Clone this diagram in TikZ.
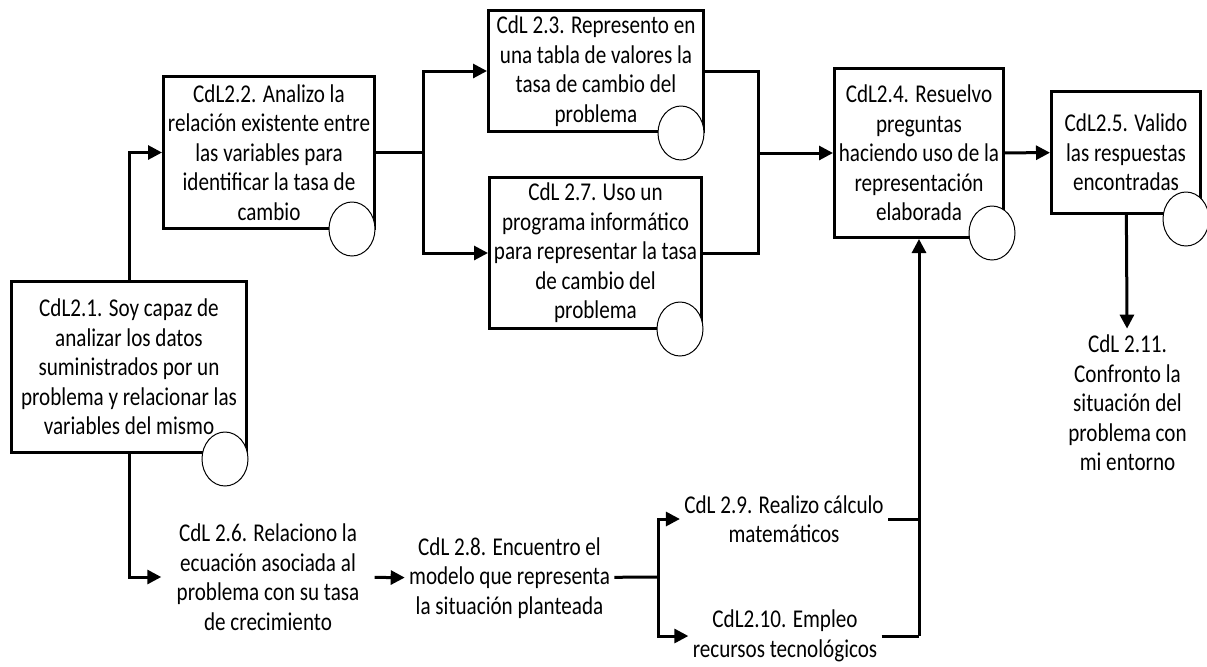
\documentclass[tikz,border=0pt]{standalone}
\usepackage{fontspec}
\setmainfont{Carlito}[FakeStretch=0.825]
\usetikzlibrary{arrows.meta}
\usetikzlibrary{shapes.geometric}

\begin{document}
\begin{tikzpicture}
		[x=0.5pt, y=-0.5pt,
		every node/.style={inner sep=0pt, align=center, font=\fontsize{12.8}{14.75}\selectfont},
		box/.style={rectangle, draw=black, line width=1.5pt},
		txt/.style={inner sep=2pt},
		ring/.style={ellipse, draw=black, fill=white, line width=0.5pt, minimum width=23pt, minimum height=27pt},
		link/.style={line width=1.5pt, color=black},
		tip/.style={-{Triangle[length=7pt, width=7pt]}}]
		\useasboundingbox (0, 0) rectangle (1207, 666);
		\node (21) [box, minimum width=117.5pt, minimum height=85.5pt] at (129, 367) {CdL2.1. Soy capaz de\\analizar los datos\\suministrados por un\\problema y relacionar las\\variables del mismo};
		\node (22) [box, minimum width=105.5pt, minimum height=76pt] at (269, 152.5) {CdL2.2. Analizo la\\relación existente entre\\las variables para\\identificar la tasa de\\cambio};
		\node (23) [box, minimum width=107.5pt, minimum height=60.5pt] at (596, 71) {CdL 2.3. Represento en\\una tabla de valores la\\tasa de cambio del\\problema};
		\node (27) [box, minimum width=106pt, minimum height=75.5pt] at (595.5, 253) {CdL 2.7. Uso un\\programa informático\\para representar la tasa\\de cambio del\\problema};
		\node (24) [box, minimum width=84.5pt, minimum height=84.5pt] at (919, 153) {CdL2.4. Resuelvo\\preguntas\\haciendo uso de la\\representación\\elaborada};
		\node (25) [box, minimum width=74.5pt, minimum height=61pt] at (1126, 152.5) {CdL2.5. Valido\\las respuestas\\encontradas};
		\node (26) [txt, inner xsep=7.5pt] at (268, 577) {CdL 2.6. Relaciono la\\ecuación asociada al\\problema con su tasa\\de crecimiento};
		\node (28) [txt] at (509.5, 578) {CdL 2.8. Encuentro el\\modelo que representa\\la situación planteada};
		\node (29) [txt] at (784, 519) {CdL 2.9. Realizo cálculo\\matemáticos};
		\node (210) [txt] at (785, 636) {CdL2.10. Empleo\\recursos tecnológicos};
		\node (211) [txt, inner ysep=3pt] at (1127.5, 403) {CdL 2.11.\\Confronto la\\situación del\\problema con\\mi entorno};
		% circles on the corners
		\node (c21) [ring] at (225, 459) {};
		\node (c22) [ring] at (352, 229) {};
		\node (c23) [ring] at (681, 133) {};
		\node (c27) [ring] at (680, 329) {};
		\node (c24) [ring] at (992, 233) {};
		\node (c25) [ring] at (1186, 219) {};
		\coordinate (s1) at (423, 152.5);
		\coordinate (s2) at (758, 153);
		\coordinate (s3) at (658, 577);
		\coordinate (s4) at (919, 636);
		\draw [link, tip] (21) |- (22);
		\draw [link] (22) to (s1);
		\draw [link, tip] (s1) |- (23);
		\draw [link, tip] (s1) |- (27);
		\draw [link] (23) -| (s2);
		\draw [link] (27) -| (s2);
		\draw [link, tip] (s2) to (24);
		\draw [link, tip] (24) to (25);
		\draw [link, tip] (25) to (211);
		\draw [link, tip] (21) |- (26);
		\draw [link, tip] (26) to (28);
		\draw [link] (28) to (s3);
		\draw [link, tip] (s3) |- (29);
		\draw [link, tip] (s3) |- (210);
		\draw [link] (29) -| (s4);
		\draw [link] (210) to (s4);
		\draw [link, tip] (s4) to (24);
\end{tikzpicture}
\end{document}
